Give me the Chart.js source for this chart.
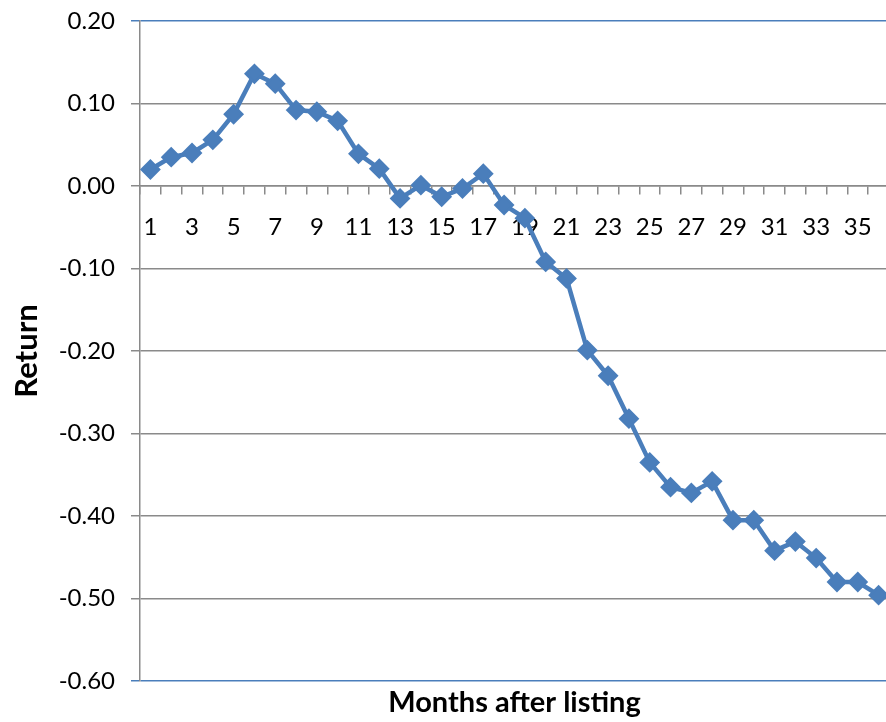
<!DOCTYPE html>
<html>
<head>
<meta charset="utf-8">
<title>Return by months after listing</title>
<script src="https://cdn.jsdelivr.net/npm/chart.js@4.4.1/dist/chart.umd.min.js"></script>
<style>
  html, body { margin: 0; padding: 0; background: #fff; overflow: hidden; }
  #grafico { display: block; }
</style>
</head>
<body>
<canvas id="grafico" width="900" height="722"></canvas>
<script>
// meses depois da listagem (1 a 36)
var meses = []
for (let i = 1; i <= 36; i++) {
    meses.push(String(i))
}

// retorno medio em cada mes
var retornos = [
    0.020, 0.035, 0.040, 0.056, 0.087, 0.136, 0.124, 0.092, 0.090, 0.079,
    0.039, 0.021, -0.015, 0.001, -0.013, -0.003, 0.015, -0.023, -0.039, -0.092,
    -0.112, -0.199, -0.230, -0.282, -0.335, -0.365, -0.372, -0.358, -0.405, -0.405,
    -0.442, -0.431, -0.451, -0.480, -0.480, -0.496
]

// eixo y
var yMin = -0.6
var yMax = 0.2
var yPasso = 0.1

var azul = '#4A7EBB'
var cinza = '#8A8A8A'
var fonte = 'Lato, "Open Sans", sans-serif'

const config = {
    type: 'line',
    data: {
        labels: meses,
        datasets: [{
            label: 'Return',
            data: retornos,
            borderColor: azul,
            backgroundColor: azul,
            borderWidth: 4.5,
            tension: 0,
            pointStyle: 'rectRot',
            pointRadius: 9,
            pointHoverRadius: 9,
            pointBorderWidth: 2,
            pointBackgroundColor: azul,
            pointBorderColor: azul
        }]
    },
    options: {
        responsive: false,
        animation: false,
        layout: { padding: { top: 21, right: 4, left: 8, bottom: 0 } },
        plugins: {
            legend: { display: false },
            tooltip: { enabled: false }
        },
        scales: {
            x: {
                type: 'category',
                position: { y: 0 },
                offset: true,
                border: { display: true, color: cinza, width: 1.5 },
                grid: {
                    display: true,
                    offset: true,
                    drawOnChartArea: false,
                    drawTicks: true,
                    tickLength: 8,
                    color: cinza,
                    lineWidth: 1.5
                },
                ticks: {
                    autoSkip: false,
                    maxRotation: 0,
                    padding: 19,
                    color: '#000',
                    font: { family: fonte, size: 24 },
                    callback: function (valor, indice) {
                        // so os meses impares ganham rotulo
                        return indice % 2 == 0 ? meses[indice] : ''
                    }
                }
            },
            // eixo de baixo so para o titulo, centrado na area do grafico
            xTitulo: {
                type: 'category',
                position: 'bottom',
                offset: true,
                border: { display: false },
                grid: { display: false, drawTicks: false },
                ticks: { display: false },
                title: {
                    display: true,
                    text: 'Months after listing',
                    color: '#000',
                    font: { family: fonte, size: 29, weight: 'bold' },
                    padding: { top: 2, bottom: 2 }
                },
                afterFit: function (escala) {
                    escala.height = 41
                }
            },
            y: {
                min: yMin,
                max: yMax,
                border: { display: true, color: cinza, width: 1.5 },
                grid: {
                    tickLength: 9,
                    lineWidth: 1.5,
                    color: function (ctx) {
                        var v = ctx.tick ? ctx.tick.value : 0
                        if (Math.abs(v - yMax) < 1e-6 || Math.abs(v - yMin) < 1e-6) {
                            return azul
                        }
                        return cinza
                    }
                },
                ticks: {
                    stepSize: yPasso,
                    padding: 16,
                    color: '#000',
                    font: { family: fonte, size: 24 },
                    callback: function (valor) {
                        return Number(valor).toFixed(2)
                    }
                },
                title: {
                    display: true,
                    text: 'Return',
                    color: '#000',
                    font: { family: fonte, size: 31, weight: 'bold' },
                    padding: { top: 0, bottom: 10 }
                },
                afterFit: function (escala) {
                    escala.width = 132
                    escala.paddingTop = 0
                    escala.paddingBottom = 0
                }
            }
        }
    }
}

let myChart = new Chart(document.getElementById('grafico'), config)
</script>
</body>
</html>
